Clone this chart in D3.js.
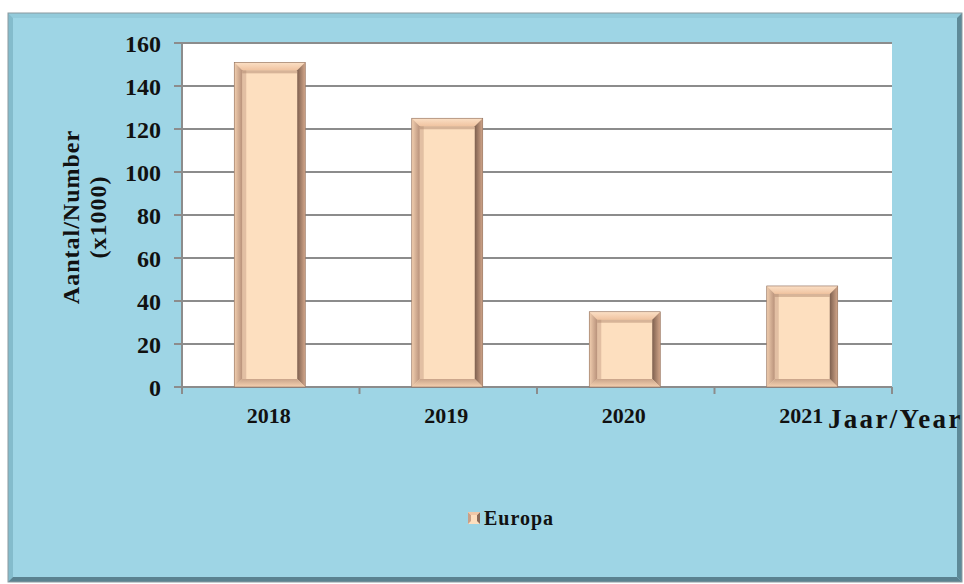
<!DOCTYPE html>
<html><head><meta charset="utf-8">
<script src="https://cdn.jsdelivr.net/npm/d3@7"></script>
<style>html,body{margin:0;padding:0;background:#fff;}svg{display:block;}</style>
</head><body>
<svg id="c" width="964" height="584"></svg>
<script>
const categories = ["2018", "2019", "2020", "2021"];
const values = [151, 125, 35, 47];
const yTicks = [0, 20, 40, 60, 80, 100, 120, 140, 160];
const seriesName = "Europa";

const svg = d3.select("#c");
const defs = svg.append("defs");
function grad(id, x1, y1, x2, y2, c1, c2) {
  const g = defs.append("linearGradient").attr("id", id).attr("x1", x1).attr("y1", y1).attr("x2", x2).attr("y2", y2);
  g.append("stop").attr("offset", "0").attr("stop-color", c1);
  g.append("stop").attr("offset", "1").attr("stop-color", c2);
}
grad("gTop", 0, 0, 0, 1, "#fbe0c6", "#f0c3a0");
grad("gLeft", 0, 0, 1, 0, "#f2cfb0", "#b8917a");
grad("gRight", 0, 0, 1, 0, "#7e604f", "#d2a68a");
grad("gBot", 0, 0, 0, 1, "#c9a48a", "#f6d2b2");

const font = "Liberation Serif, 'Times New Roman', serif";

// frame
const fx = 8, fy = 13, fw = 954, fh = 569;
svg.append("rect").attr("x", fx).attr("y", fy).attr("width", fw).attr("height", fh).attr("fill", "#9ed5e5");
const bw = 5;
svg.append("polygon").attr("points", [[fx,fy],[fx+fw,fy],[fx+fw-bw,fy+bw],[fx+bw,fy+bw]].join(" ")).attr("fill", "#93cbdb");
svg.append("polygon").attr("points", [[fx,fy],[fx+bw,fy+bw],[fx+bw,fy+fh-bw],[fx,fy+fh]].join(" ")).attr("fill", "#84bccc");
svg.append("polygon").attr("points", [[fx+fw,fy],[fx+fw,fy+fh],[fx+fw-bw,fy+fh-bw],[fx+fw-bw,fy+bw]].join(" ")).attr("fill", "#5e8a98");
svg.append("polygon").attr("points", [[fx,fy+fh],[fx+fw,fy+fh],[fx+fw-bw,fy+fh-bw],[fx+bw,fy+fh-bw]].join(" ")).attr("fill", "#5a8290");
svg.append("rect").attr("x", fx).attr("y", fy).attr("width", fw).attr("height", fh).attr("fill", "none").attr("stroke", "#8a9aa0").attr("stroke-width", 1);

const L = 182, R = 892, T = 43, B = 387;
const x = d3.scaleBand().domain(categories).range([L, R]).padding(0);
const y = d3.scaleLinear().domain([0, 160]).range([B, T]);

svg.append("rect").attr("x", L).attr("y", T).attr("width", R - L).attr("height", B - T).attr("fill", "#ffffff");

// gridlines
svg.append("g").selectAll("line").data(yTicks).join("line")
  .attr("x1", L - 8).attr("x2", R).attr("y1", d => y(d)).attr("y2", d => y(d))
  .attr("stroke", "#8c8c8c").attr("stroke-width", 2);

// axes lines
svg.append("line").attr("x1", L).attr("x2", L).attr("y1", T).attr("y2", B).attr("stroke", "#8c8c8c").attr("stroke-width", 2);
const xb = categories.map(c => x(c)).concat([R]);
svg.append("g").selectAll("line").data(xb).join("line")
  .attr("x1", d => d).attr("x2", d => d).attr("y1", B).attr("y2", B + 7)
  .attr("stroke", "#8c8c8c").attr("stroke-width", 2);

// y tick labels
svg.append("g").selectAll("text").data(yTicks).join("text")
  .attr("x", L - 21).attr("y", d => y(d)).attr("dy", "0.36em")
  .attr("text-anchor", "end").attr("font-family", font).attr("font-weight", "bold")
  .attr("font-size", 24).attr("fill", "#111").text(d => d);

// x labels
svg.append("g").selectAll("text").data(categories).join("text")
  .attr("x", d => x(d) + x.bandwidth() / 2 - 2).attr("y", 423)
  .attr("text-anchor", "middle").attr("font-family", font).attr("font-weight", "bold")
  .attr("font-size", 22).attr("fill", "#111").text(d => d);

// bars with bevel
const barW = x.bandwidth() * 0.4;
const bev = 8;
const bars = svg.append("g").selectAll("g").data(values.map((v, i) => ({v, c: categories[i]}))).join("g");
bars.each(function(d) {
  const g = d3.select(this);
  const x0 = x(d.c) + (x.bandwidth() - barW) / 2 - 1, x1 = x0 + barW;
  const y0 = y(d.v), y1 = y(0);
  g.append("rect").attr("x", x0).attr("y", y0).attr("width", barW).attr("height", y1 - y0).attr("fill", "#fddfbf");
  g.append("polygon").attr("points", [[x0,y0],[x1,y0],[x1-bev,y0+bev],[x0+bev,y0+bev]].join(" ")).attr("fill", "url(#gTop)");
  g.append("polygon").attr("points", [[x0,y0],[x0+bev,y0+bev],[x0+bev,y1-bev],[x0,y1]].join(" ")).attr("fill", "url(#gLeft)");
  g.append("polygon").attr("points", [[x1,y0],[x1,y1],[x1-bev,y1-bev],[x1-bev,y0+bev]].join(" ")).attr("fill", "url(#gRight)");
  g.append("polygon").attr("points", [[x0,y1],[x1,y1],[x1-bev,y1-bev],[x0+bev,y1-bev]].join(" ")).attr("fill", "url(#gBot)");
  g.append("rect").attr("x", x0 + bev).attr("y", y0 + bev).attr("width", 4).attr("height", Math.max(0, y1 - y0 - 2 * bev)).attr("fill", "#c09a80").attr("opacity", 0.45);
  g.append("rect").attr("x", x0 + bev).attr("y", y0 + bev).attr("width", barW - 2 * bev).attr("height", 3).attr("fill", "#a98068").attr("opacity", 0.45);
  g.append("rect").attr("x", x0).attr("y", y0).attr("width", barW).attr("height", y1 - y0).attr("fill", "none").attr("stroke", "#8a6a58").attr("stroke-width", 0.6);
});

// axis titles
svg.append("text").attr("x", 828).attr("y", 428).attr("font-family", font).attr("font-weight", "bold")
  .attr("font-size", 27).attr("letter-spacing", 2.3).attr("fill", "#111").text("Jaar/Year");
const yt = svg.append("text").attr("transform", "translate(79,217) rotate(-90)").attr("text-anchor", "middle")
  .attr("font-family", font).attr("font-weight", "bold").attr("font-size", 24).attr("letter-spacing", 1).attr("fill", "#111");
yt.append("tspan").attr("x", 0).attr("dy", 0).text("Aantal/Number");
yt.append("tspan").attr("x", 0).attr("dy", 27).text("(x1000)");

// legend
const lg = svg.append("g").attr("transform", "translate(468,512)");
lg.append("rect").attr("width", 12).attr("height", 12).attr("fill", "#fddfbf");
lg.append("polygon").attr("points", "0,0 3,3 3,9 0,12").attr("fill", "#c9a088");
lg.append("polygon").attr("points", "12,0 12,12 9,9 9,3").attr("fill", "#8a6a58");
lg.append("polygon").attr("points", "0,0 12,0 9,3 3,3").attr("fill", "#f0c8a8");
lg.append("text").attr("x", 16).attr("y", 13).attr("font-family", font).attr("font-weight", "bold")
  .attr("font-size", 20).attr("letter-spacing", 1).attr("fill", "#111").text(seriesName);
</script>
</body></html>
